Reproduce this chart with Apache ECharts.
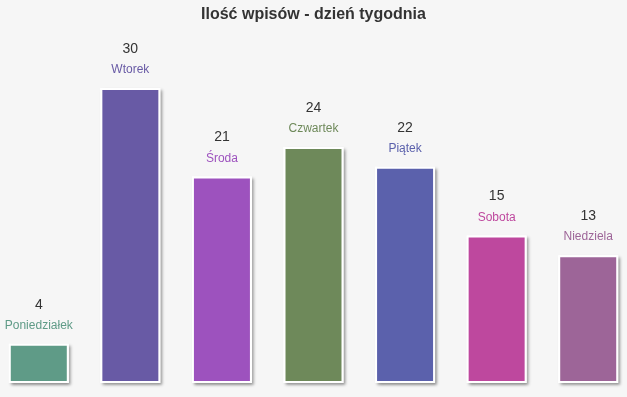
<!DOCTYPE html>
<html>
<head>
<meta charset="utf-8" />
<script src="https://cdn.jsdelivr.net/npm/echarts@6/dist/echarts.min.js"></script>
<title>Ilość wpisów</title>
<style>
html, body { margin: 0; padding: 0; background: #f6f6f6; }
</style>
</head>
<body>
<div id="main" style="width: 627px;height:397px;"></div>
<script type="text/javascript">
// dane
var days = ['Poniedziałek', 'Wtorek', 'Środa', 'Czwartek', 'Piątek', 'Sobota', 'Niedziela'];
var counts = [4, 30, 21, 24, 22, 15, 13];
var colors = ['#5f9b87', '#685aa5', '#9d52be', '#6e895a', '#5b61ac', '#be489e', '#9d6598'];

var chart = echarts.init(document.getElementById('main'));

var data = counts.map(function (v, i) {
  return {
    value: v,
    itemStyle: { color: colors[i] },
    label: { rich: { n: { color: colors[i], fontSize: 12, lineHeight: 20, fontFamily: 'Liberation Sans' } } }
  };
});

var option = {
  backgroundColor: '#f6f6f6',
  title: {
    text: 'Ilość wpisów - dzień tygodnia',
    left: 'center',
    top: 2,
    textStyle: { fontFamily: 'Liberation Sans', fontSize: 16, fontWeight: 'bold', color: '#333' }
  },
  grid: { left: -7, top: 88, width: 641, height: 295, outerBoundsMode: 'none', containLabel: false },
  xAxis: {
    type: 'category',
    data: days,
    show: false
  },
  yAxis: {
    type: 'value',
    min: 0,
    max: 30,
    show: false
  },
  series: [{
    // biała ramka z cieniem pod słupkiem
    type: 'bar',
    barWidth: 60,
    data: counts,
    silent: true,
    itemStyle: {
      color: '#ffffff',
      borderColor: '#ffffff',
      borderWidth: 3,
      shadowColor: 'rgba(0,0,0,0.3)',
      shadowBlur: 3,
      shadowOffsetX: 2,
      shadowOffsetY: 2
    }
  }, {
    type: 'bar',
    barWidth: 60,
    barGap: '-100%',
    data: data,
    itemStyle: { borderColor: '#ffffff', borderWidth: 2 },
    label: {
      show: true,
      position: 'top',
      distance: 8,
      formatter: function (p) { return '{v|' + p.value + '}\n{n|' + p.name + '}'; },
      rich: {
        v: { color: '#333', fontSize: 14, lineHeight: 22, fontFamily: 'Liberation Sans' }
      }
    }
  }]
};
chart.setOption(option);
</script>
</body>
</html>
